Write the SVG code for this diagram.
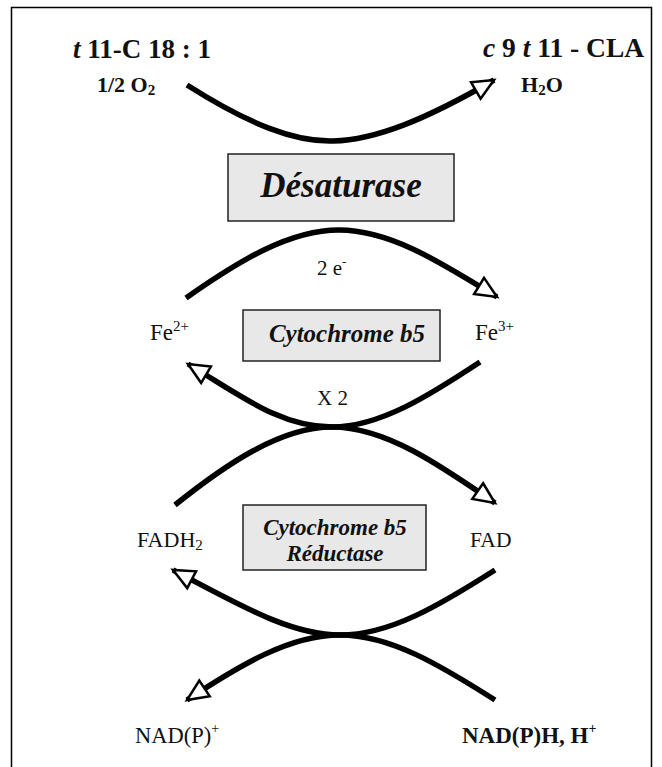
<svg xmlns="http://www.w3.org/2000/svg" width="662" height="767" viewBox="0 0 662 767">
<style>
  .t { font-family: "Liberation Serif", "Times New Roman", serif; fill: #111; }
  .b { font-weight: bold; }
  .i { font-style: italic; }
  .box { fill: #e8e8e8; stroke: #222; stroke-width: 1.5; }
  .arc { fill: none; stroke: #000; stroke-width: 5.5; stroke-linecap: butt; }
</style>
<defs>
  <marker id="ah" markerUnits="userSpaceOnUse" markerWidth="28" markerHeight="26" refX="21" refY="9.5" orient="auto" viewBox="-2 -2 28 26">
    <path d="M0,0 L21,9.5 L0,19 Z" fill="#fff" stroke="#000" stroke-width="2.5" stroke-linejoin="miter"/>
  </marker>
</defs>
<rect x="0" y="0" width="662" height="767" fill="#fff"/>
<path d="M11.5,780 L11.5,7.5 L651.5,7.5 L651.5,780" fill="none" stroke="#000" stroke-width="1.5"/>

<g id="connectors">
  <path class="arc" d="M187,85 C250,125 295,142 333,141 C375,140 425,120 494,80" marker-end="url(#ah)"/>
  <path class="arc" d="M186,298 C240,260 290,230 339,230 C390,230 440,262 497,297" marker-end="url(#ah)"/>
  <path class="arc" d="M480,362 C430,395 380,427 332,427 C280,427 240,395 188,364" marker-end="url(#ah)"/>
  <path class="arc" d="M175,505 C225,465 280,427 332,427 C385,427 440,465 495,503" marker-end="url(#ah)"/>
  <path class="arc" d="M495,570 C440,605 390,635 340,635 C290,635 240,605 173,570" marker-end="url(#ah)"/>
  <path class="arc" d="M495,700 C440,665 390,635 340,635 C290,635 240,665 187,700" marker-end="url(#ah)"/>
</g>

<g id="substrate">
  <text class="t b" x="73" y="58" font-size="27"><tspan class="i">t</tspan> 11-C 18 : 1</text>
  <text class="t b" x="97" y="92" font-size="22">1/2 O<tspan font-size="15" dy="3">2</tspan></text>
</g>
<g id="product">
  <text class="t b" x="483" y="57" font-size="27.5"><tspan class="i">c</tspan> 9 <tspan class="i">t</tspan> 11 - CLA</text>
  <text class="t b" x="521" y="92" font-size="22">H<tspan font-size="15" dy="3">2</tspan><tspan dy="-3">O</tspan></text>
</g>

<g id="desaturase">
  <rect class="box" x="228" y="154" width="226" height="67"/>
  <text class="t b i" x="341" y="197" font-size="35" text-anchor="middle">Désaturase</text>
</g>

<g id="electrons">
  <text class="t" x="317" y="275" font-size="21">2 e<tspan font-size="13" dy="-9">-</tspan></text>
</g>

<g id="fe2">
  <text class="t" x="150" y="340" font-size="23">Fe<tspan font-size="15" dy="-9">2+</tspan></text>
</g>
<g id="fe3">
  <text class="t" x="475" y="340" font-size="23">Fe<tspan font-size="15" dy="-9">3+</tspan></text>
</g>

<g id="cytochrome-b5">
  <rect class="box" x="243" y="310" width="197" height="51"/>
  <text class="t b i" x="347" y="342" font-size="25" text-anchor="middle">Cytochrome b5</text>
</g>

<g id="x2">
  <text class="t" x="317" y="405" font-size="21">X 2</text>
</g>

<g id="fadh2">
  <text class="t" x="137" y="547" font-size="22">FADH<tspan font-size="15" dy="3">2</tspan></text>
</g>
<g id="fad">
  <text class="t" x="470" y="547" font-size="21.5">FAD</text>
</g>

<g id="cytochrome-b5-reductase">
  <rect class="box" x="243" y="505" width="183" height="65"/>
  <text class="t b i" x="335" y="535" font-size="23" text-anchor="middle">Cytochrome b5</text>
  <text class="t b i" x="335" y="561" font-size="23" text-anchor="middle">Réductase</text>
</g>

<g id="nadp">
  <text class="t" x="135" y="743" font-size="22.5">NAD(P)<tspan font-size="14" dy="-10">+</tspan></text>
</g>
<g id="nadph">
  <text class="t b" x="462" y="743" font-size="23">NAD(P)H, H<tspan font-size="14" dy="-10">+</tspan></text>
</g>
</svg>
